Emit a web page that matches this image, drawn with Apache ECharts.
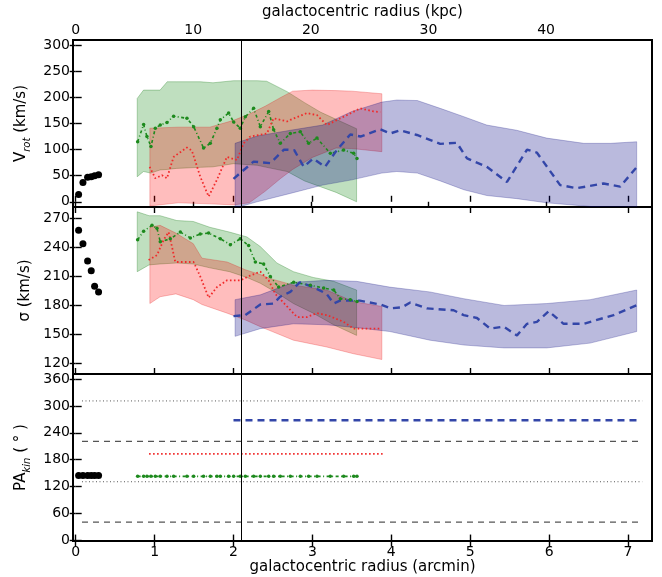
<!DOCTYPE html>
<html>
<head>
<meta charset="utf-8">
<script src="https://cdn.jsdelivr.net/npm/echarts@6.0.0/dist/echarts.min.js"></script>
<style>
  html, body { margin: 0; padding: 0; background: #fff; }
  #chart { width: 662px; height: 577px; }
</style>
</head>
<body>
<div id="chart"></div>
<script>
// ---- Inner region (black points), radii in arcmin ----
const innerR      = [0.037, 0.092, 0.151, 0.197, 0.240, 0.290];
const innerVrot   = [14, 37, 47, 48, 50, 52];
const innerSigma  = [258, 244, 226, 216, 200, 194];
const innerPA     = [145, 145, 145, 145, 145, 145];

// ---- Green component ----
const greenR    = [0.785, 0.861, 0.903, 0.954, 1.009, 1.072, 1.157, 1.241, 1.41, 1.495, 1.621, 1.706, 1.79, 1.833, 1.938, 2.002, 2.086, 2.15, 2.255, 2.34, 2.446, 2.509, 2.593, 2.72, 2.847, 2.952, 3.058, 3.227, 3.396, 3.523, 3.565];
const greenVrot = [115, 148, 125, 106, 141, 147, 152, 164, 160, 144, 103, 112, 141, 157, 170, 153, 141, 163, 179, 144, 173, 138, 112, 131, 134, 112, 122, 93, 99, 93, 83];
const greenPA   = [143, 143, 143, 143, 143, 143, 143, 143, 143, 143, 143, 143, 143, 143, 143, 143, 143, 143, 143, 143, 143, 143, 143, 143, 143, 143, 143, 143, 143, 143, 143];
const greenSigR = [0.785, 0.861, 0.967, 1.030, 1.072, 1.199, 1.326, 1.453, 1.579, 1.685, 1.833, 1.96, 2.086, 2.192, 2.277, 2.382, 2.467, 2.572, 2.763, 2.974, 3.143, 3.27, 3.354, 3.481, 3.565];
const greenSigma = [248, 257, 263, 260, 246, 249, 256, 250, 254, 255, 249, 243, 249, 242, 225, 223, 210, 199, 204, 201, 198, 196, 187, 186, 184];
const greenVBandR  = [0.78, 0.86, 0.95, 1.07, 1.16, 1.28, 1.58, 1.74, 2.0, 2.3, 2.42, 2.68, 2.9, 3.1, 3.3, 3.56];
const greenVBandHi = [198, 214, 214, 214, 230, 230, 230, 228, 232, 232, 231, 211, 190, 172, 158, 140];
const greenVBandLo = [48, 58, 55, 61, 62, 64, 66, 67, 73, 70, 66, 58, 40, 29, 18, 0];
const greenSBandR  = [0.78, 0.93, 1.07, 1.28, 1.49, 1.70, 1.95, 2.17, 2.34, 2.55, 2.76, 3.01, 3.27, 3.56];
const greenSBandHi = [277, 273, 273, 268, 267, 261, 256, 251, 241, 224, 215, 209, 205, 196];
const greenSBandLo = [215, 222, 223, 224, 223, 219, 215, 209, 203, 193, 182, 172, 160, 149];

// ---- Red component ----
const redR    = [0.937, 1.009, 1.094, 1.157, 1.241, 1.41, 1.473, 1.579, 1.685, 1.79, 1.917, 2.044, 2.128, 2.213, 2.424, 2.508, 2.68, 2.72, 2.931, 3.058, 3.184, 3.396, 3.607, 3.776, 3.86];
const redVrot = [67, 45, 51, 45, 86, 104, 98, 48, 10, 42, 86, 80, 112, 125, 131, 160, 154, 157, 170, 166, 147, 163, 179, 173, 172];
const redSigR  = [0.924, 1.03, 1.115, 1.178, 1.22, 1.262, 1.495, 1.579, 1.685, 1.79, 1.917, 2.086, 2.213, 2.34, 2.446, 2.53, 2.678, 2.805, 2.93, 3.058, 3.184, 3.396, 3.523, 3.86];
const redSigma = [227, 232, 248, 256, 241, 225, 225, 210, 188, 199, 206, 206, 211, 215, 206, 192, 179, 168, 168, 172, 170, 163, 156, 156];
const redPAR   = [0.93, 3.89];
const redPA    = [193, 193];
const redVBandR  = [0.94, 1.3, 1.7, 2.0, 2.2, 2.4, 2.6, 2.75, 3.0, 3.3, 3.5, 3.88];
const redVBandHi = [141, 143, 143, 156, 168, 183, 200, 212, 214, 213, 212, 207];
const redVBandLo = [-8, -2, -4, -6, -2, 20, 45, 62, 85, 103, 102, 96];
const redSBandR  = [0.94, 1.07, 1.27, 1.49, 1.60, 1.92, 2.15, 2.34, 2.46, 2.76, 3.18, 3.52, 3.88];
const redSBandHi = [261, 263, 255, 244, 229, 225, 217, 212, 208, 201, 196, 184, 179];
const redSBandLo = [182, 189, 192, 186, 181, 172, 165, 158, 154, 144, 137, 130, 124];

// ---- Blue component ----
const blueR    = [2.0, 2.255, 2.467, 2.64, 2.77, 2.89, 3.01, 3.16, 3.31, 3.48, 3.61, 3.86, 3.987, 4.114, 4.325, 4.62, 4.83, 4.96, 5.21, 5.466, 5.72, 5.846, 6.14, 6.35, 6.69, 6.9, 7.114];
const blueVrot = [44, 77, 74, 100, 99, 67, 83, 67, 99, 129, 125, 139, 131, 137, 128, 111, 113, 83, 67, 38, 100, 94, 32, 26, 35, 29, 67];
const blueSigR  = [2.0, 2.15, 2.34, 2.51, 2.59, 2.72, 2.84, 3.01, 3.18, 3.27, 3.35, 3.6, 3.86, 3.99, 4.135, 4.24, 4.45, 4.79, 4.917, 5.086, 5.255, 5.424, 5.593, 5.72, 5.846, 5.994, 6.184, 6.437, 6.606, 6.818, 7.105];
const blueSigma = [169, 170, 181, 182, 189, 194, 204, 199, 192, 182, 185, 185, 181, 177, 178, 183, 177, 175, 170, 167, 156, 158, 149, 161, 163, 174, 161, 161, 165, 170, 180];
const bluePAR  = [2.0, 7.12];
const bluePA   = [268, 268];
const blueVBandR  = [2.02, 2.3, 2.72, 3.13, 3.5, 3.88, 4.07, 4.33, 4.62, 4.92, 5.21, 5.59, 5.97, 6.44, 6.78, 7.11];
const blueVBandHi = [112, 126, 137, 147, 173, 191, 195, 194, 179, 163, 147, 137, 122, 112, 112, 115];
const blueVBandLo = [-12, 0, 16, 32, 42, 55, 58, 55, 40, 23, 12, 6, -2, -8, -12, -15];
const blueSBandR  = [2.02, 2.34, 2.76, 3.18, 3.56, 3.98, 4.49, 4.92, 5.43, 5.97, 6.52, 7.11];
const blueSBandHi = [186, 191, 204, 206, 205, 199, 194, 187, 180, 182, 186, 196];
const blueSBandLo = [148, 156, 161, 160, 157, 153, 144, 139, 136, 136, 141, 153];

// ---- Photometric position-angle references ----
const refPAR      = [0.08, 7.18];
const refDashedPA = [41, 221];
const refDottedPA = [131, 311];
const transitionR = 2.105;

// ---- Axis ticks ----
const arcminTicks = [0, 1, 2, 3, 4, 5, 6, 7];
const kpcTicks    = [0, 10, 20, 30, 40];
const vrotTicks   = [0, 50, 100, 150, 200, 250, 300];
const sigmaTicks  = [120, 150, 180, 210, 240, 270];
const paTicks     = [0, 60, 120, 180, 240, 300, 360];
const KPC_PER_ARCMIN = 6.71;

const X_MIN = -0.034, X_MAX = 7.304;
const FONT = 'DejaVu Sans';
const INK = '#000';

const pts = (xs, ys) => xs.map((x, i) => [x, ys[i]]);

const panelTop = [40, 207, 374];
const panelH = 167;
const grid = panelTop.map(t => ({
  left: 73, top: t, width: 579, height: panelH,
  show: true, borderColor: INK, borderWidth: 2, backgroundColor: 'transparent'
}));

const tickStyle = (vals, show) => ({
  show: show, inside: true, length: 6, customValues: vals,
  lineStyle: { color: INK, width: 1.4 }
});

function xAxisPair(i) {
  const bottom = {
    type: 'value', gridIndex: i, position: 'bottom', min: X_MIN, max: X_MAX,
    axisLine: { show: false }, splitLine: { show: false },
    axisTick: tickStyle(arcminTicks, true),
    axisLabel: { show: i === 2, customValues: arcminTicks, margin: 4,
      color: INK, fontFamily: FONT, fontSize: 14 }
  };
  if (i === 2) {
    bottom.name = 'galactocentric radius (arcmin)';
    bottom.nameLocation = 'middle';
    bottom.nameGap = 18;
    bottom.nameTextStyle = { color: INK, fontFamily: FONT, fontSize: 15 };
  }
  let top;
  if (i === 0) {
    top = {
      type: 'value', gridIndex: 0, position: 'top',
      min: X_MIN * KPC_PER_ARCMIN, max: X_MAX * KPC_PER_ARCMIN,
      axisLine: { show: false }, splitLine: { show: false },
      axisTick: tickStyle(kpcTicks, true),
      axisLabel: { show: true, customValues: kpcTicks, margin: 3,
        color: INK, fontFamily: FONT, fontSize: 14 },
      name: 'galactocentric radius (kpc)', nameLocation: 'middle', nameGap: 20,
      nameTextStyle: { color: INK, fontFamily: FONT, fontSize: 15 }
    };
  } else {
    top = {
      type: 'value', gridIndex: i, position: 'top', min: X_MIN, max: X_MAX,
      axisLine: { show: false }, splitLine: { show: false },
      axisTick: tickStyle(arcminTicks, true),
      axisLabel: { show: false }
    };
  }
  return [bottom, top];
}

const yRanges = [[-10, 310], [109, 282], [-1, 371]];
const yTicks = [vrotTicks, sigmaTicks, paTicks];
const yNames = [
  '{n|V}{s|rot}{n| (km/s)}',
  '{n|σ (km/s)}',
  '{n|PA}{s|kin}{n| ( ° )}'
];

function yAxisPair(i) {
  const left = {
    type: 'value', gridIndex: i, position: 'left', min: yRanges[i][0], max: yRanges[i][1],
    axisLine: { show: false }, splitLine: { show: false },
    axisTick: tickStyle(yTicks[i], true),
    axisLabel: { show: true, customValues: yTicks[i], margin: 3,
      color: INK, fontFamily: FONT, fontSize: 14 },
    name: yNames[i], nameLocation: 'middle', nameRotate: 90, nameGap: 37,
    nameTextStyle: {
      color: INK, fontFamily: FONT, fontSize: 15,
      rich: {
        n: { fontFamily: FONT, fontSize: 15, color: INK, lineHeight: 22, verticalAlign: 'middle' },
        s: { fontFamily: FONT, fontSize: 10, color: INK, fontStyle: 'italic', lineHeight: 22, verticalAlign: 'bottom' }
      }
    }
  };
  const right = {
    type: 'value', gridIndex: i, position: 'right', min: yRanges[i][0], max: yRanges[i][1],
    axisLine: { show: false }, splitLine: { show: false },
    axisTick: tickStyle(yTicks[i], true),
    axisLabel: { show: false }
  };
  return [left, right];
}

const xAxis = [0, 1, 2].flatMap(xAxisPair);
const yAxis = [0, 1, 2].flatMap(yAxisPair);

// filled uncertainty envelope drawn through the panel's axes
function band(panel, xs, lo, hi, fill, edge) {
  return {
    type: 'custom', xAxisIndex: 2 * panel, yAxisIndex: 2 * panel, silent: true, z: 1,
    data: [[xs[0], lo[0]]],
    renderItem(params, api) {
      const poly = [];
      for (let i = 0; i < xs.length; i++) poly.push(api.coord([xs[i], hi[i]]));
      for (let i = xs.length - 1; i >= 0; i--) poly.push(api.coord([xs[i], lo[i]]));
      const cs = params.coordSys;
      return {
        type: 'polygon', shape: { points: poly },
        style: { fill: fill, stroke: edge, lineWidth: 0.8 },
        clipPath: { type: 'rect', shape: { x: cs.x, y: cs.y, width: cs.width, height: cs.height } }
      };
    }
  };
}

const GREEN_FILL = 'rgba(0,128,0,0.25)', GREEN_EDGE = 'rgba(0,110,0,0.35)';
const RED_FILL = 'rgba(255,0,0,0.26)', RED_EDGE = 'rgba(220,0,0,0.3)';
const BLUE_FILL = 'rgba(0,0,128,0.27)', BLUE_EDGE = 'rgba(0,0,120,0.3)';
const GREEN_LINE = '#1d8a1d', RED_LINE = '#f02a2a', BLUE_LINE = '#3346a8';

function line(panel, data, color, type, width, symbolSize) {
  return {
    type: 'line', xAxisIndex: 2 * panel, yAxisIndex: 2 * panel, data: data,
    showSymbol: !!symbolSize, symbol: 'circle', symbolSize: symbolSize || 0,
    itemStyle: { color: color }, z: 3, silent: true, animation: false,
    lineStyle: { color: color, type: type, width: width }
  };
}

function innerDots(panel, ys) {
  return {
    type: 'scatter', xAxisIndex: 2 * panel, yAxisIndex: 2 * panel,
    data: pts(innerR, ys), symbol: 'circle', symbolSize: 7,
    itemStyle: { color: INK, opacity: 1 }, z: 4, silent: true,
    markLine: {
      silent: true, symbol: 'none', label: { show: false },
      lineStyle: { color: INK, type: 'solid', width: 1, opacity: 1 },
      data: [{ xAxis: transitionR }]
    }
  };
}

const GREEN_TYPE = [3, 2.5, 1, 2.5];
const RED_TYPE = [1.6, 2.4];
const BLUE_TYPE = [7, 5];

const series = [
  // rotation velocity
  band(0, greenVBandR, greenVBandLo, greenVBandHi, GREEN_FILL, GREEN_EDGE),
  band(0, redVBandR, redVBandLo, redVBandHi, RED_FILL, RED_EDGE),
  band(0, blueVBandR, blueVBandLo, blueVBandHi, BLUE_FILL, BLUE_EDGE),
  line(0, pts(greenR, greenVrot), GREEN_LINE, GREEN_TYPE, 1.6, 3.5),
  line(0, pts(redR, redVrot), RED_LINE, RED_TYPE, 1.8),
  line(0, pts(blueR, blueVrot), BLUE_LINE, BLUE_TYPE, 2.4),
  innerDots(0, innerVrot),
  // velocity dispersion
  band(1, greenSBandR, greenSBandLo, greenSBandHi, GREEN_FILL, GREEN_EDGE),
  band(1, redSBandR, redSBandLo, redSBandHi, RED_FILL, RED_EDGE),
  band(1, blueSBandR, blueSBandLo, blueSBandHi, BLUE_FILL, BLUE_EDGE),
  line(1, pts(greenSigR, greenSigma), GREEN_LINE, GREEN_TYPE, 1.6, 3.5),
  line(1, pts(redSigR, redSigma), RED_LINE, RED_TYPE, 1.8),
  line(1, pts(blueSigR, blueSigma), BLUE_LINE, BLUE_TYPE, 2.4),
  innerDots(1, innerSigma),
  // kinematic position angle
  line(2, pts(refPAR, [refDottedPA[1], refDottedPA[1]]), '#555', [1, 2.5], 1),
  line(2, pts(refPAR, [refDashedPA[1], refDashedPA[1]]), '#555', [6, 5], 1.1),
  line(2, pts(refPAR, [refDottedPA[0], refDottedPA[0]]), '#555', [1, 2.5], 1),
  line(2, pts(refPAR, [refDashedPA[0], refDashedPA[0]]), '#555', [6, 5], 1.1),
  line(2, pts(greenR, greenPA), GREEN_LINE, GREEN_TYPE, 1.6, 3.5),
  line(2, pts(redPAR, redPA), RED_LINE, RED_TYPE, 1.8),
  line(2, pts(bluePAR, bluePA), BLUE_LINE, BLUE_TYPE, 2.4),
  innerDots(2, innerPA)
];

const chart = echarts.init(document.getElementById('chart'), null, { renderer: 'canvas' });
chart.setOption({
  animation: false,
  backgroundColor: '#fff',
  textStyle: { fontFamily: FONT },
  grid: grid,
  xAxis: xAxis,
  yAxis: yAxis,
  series: series
});
</script>
</body>
</html>
